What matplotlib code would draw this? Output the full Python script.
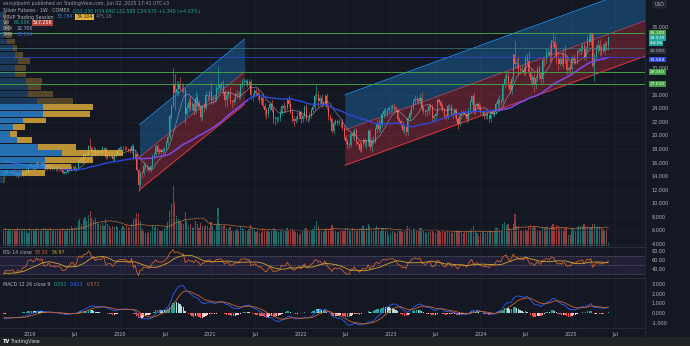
import numpy as np
import pandas as pd
import matplotlib
matplotlib.use('Agg')
import matplotlib.pyplot as plt
import matplotlib.dates as mdates
from matplotlib.transforms import blended_transform_factory
from matplotlib.lines import Line2D

# weekly closes Sep 2017 - Sep 2018, only used to warm up the indicators
warmup_close = [16.9, 16.7, 16.6, 17.0, 17.2, 17.0, 16.8, 16.9, 17.0, 17.2, 16.9, 16.6, 15.8, 16.0, 16.2, 16.8,
                17.2, 17.3, 17.1, 17.4, 17.2, 16.6, 16.5, 16.8, 16.6, 16.6, 16.5, 16.4, 16.3, 16.5, 16.6, 16.3,
                16.5, 16.4, 16.6, 16.4, 16.6, 16.9, 16.2, 16.1, 15.8, 15.9, 15.6, 15.5, 15.4, 15.3, 14.7, 14.4,
                14.8, 14.6, 14.2, 14.1]
warmup_volume = [450, 470, 430, 460, 480, 450, 440, 470, 460, 490, 470, 450, 520, 480, 470, 460,
                 490, 480, 470, 460, 480, 500, 470, 460, 450, 470, 480, 460]

first_week = '2018-09-17'

# weekly closes (USD)
close = [
    # 2018
    14.3, 14.7, 14.6, 14.6, 14.6, 14.7, 14.4, 14.1, 14.4, 14.2, 14.2, 14.6, 14.6, 14.8, 15.5, 15.6,
    # 2019
    15.6, 15.4, 15.6, 16.0, 15.8, 15.8, 16.0, 15.2, 15.1, 15.3, 15.5, 15.1, 15.1, 15.1, 15.0, 15.1, 15.0,
    14.9, 14.5, 14.5, 14.6, 14.9, 14.9, 15.3, 15.3, 15.0, 15.2, 16.2, 16.5, 16.3, 17.0, 17.2, 17.2, 18.4,
    18.2, 17.5, 17.9, 17.2, 17.6, 17.6, 17.5, 18.1, 18.1, 16.8, 17.0, 17.1, 17.0, 16.5, 17.0, 17.3, 17.9, 18.1,
    # 2020
    18.1, 18.1, 18.1, 18.0, 17.8, 17.7, 18.5, 16.7, 17.3, 14.9, 12.7, 14.5, 14.4, 15.5, 15.4, 15.2, 14.9,
    15.5, 17.0, 17.3, 18.4, 17.6, 17.8, 17.6, 17.8, 18.1, 18.9, 19.8, 22.8, 24.4, 27.6, 26.3, 26.9, 27.6,
    26.9, 26.8, 26.8, 23.1, 24.0, 25.0, 24.3, 24.6, 23.6, 25.6, 24.8, 24.2, 22.7, 24.2, 24.0, 25.9, 25.8, 26.4,
    # 2021
    25.3, 25.4, 25.6, 26.9, 27.0, 27.4, 27.3, 26.4, 25.2, 26.0, 26.3, 25.0, 24.9, 25.3, 25.9, 26.1, 25.9,
    27.4, 27.9, 27.9, 28.0, 27.6, 27.9, 25.9, 26.0, 26.5, 26.3, 25.8, 25.2, 25.5, 24.4, 23.7, 23.1, 24.0,
    24.7, 23.8, 22.4, 22.5, 22.6, 22.6, 23.3, 24.4, 24.0, 24.1, 25.3, 24.7, 23.4, 22.5, 22.2, 22.5, 22.9, 23.4,
    # 2022
    22.4, 22.9, 24.2, 22.4, 22.4, 23.0, 23.8, 24.2, 25.8, 25.9, 25.1, 25.6, 24.7, 24.8, 25.8, 24.2, 22.8,
    22.4, 20.7, 21.9, 22.1, 21.9, 21.9, 21.8, 21.1, 19.8, 19.2, 18.6, 18.6, 20.2, 19.9, 20.8, 19.0, 18.8,
    17.9, 18.8, 19.3, 18.9, 19.0, 20.6, 18.3, 19.4, 19.2, 20.9, 21.8, 20.9, 21.6, 23.1, 23.6, 23.3, 23.7, 24.0,
    # 2023
    24.0, 24.3, 24.0, 23.7, 22.4, 22.1, 21.7, 20.8, 21.2, 20.5, 22.6, 23.3, 24.2, 25.1, 25.4, 25.2, 25.1,
    25.6, 24.0, 23.6, 23.4, 23.6, 24.4, 24.2, 22.6, 22.8, 23.2, 25.3, 25.0, 24.4, 23.7, 22.8, 22.7, 24.3,
    24.3, 23.1, 23.0, 23.7, 22.4, 21.7, 22.9, 23.4, 23.3, 23.2, 22.4, 23.8, 25.0, 25.8, 23.6, 24.4, 24.6, 24.1,
    # 2024
    23.4, 23.4, 22.8, 23.2, 22.8, 22.4, 23.5, 23.2, 23.4, 24.6, 25.3, 24.8, 25.1, 27.5, 28.3, 28.7, 27.5,
    26.7, 28.4, 31.8, 30.6, 30.6, 29.8, 29.7, 29.7, 29.4, 31.5, 31.0, 29.3, 28.2, 28.6, 27.5, 28.5, 29.9,
    28.9, 28.4, 31.2, 31.1, 32.3, 32.3, 31.8, 34.0, 33.8, 32.8, 31.3, 30.6, 31.3, 30.6, 31.7, 31.2, 29.6, 30.0,
    # 2025
    29.8, 31.4, 31.0, 31.1, 32.3, 32.4, 32.8, 33.2, 31.6, 32.8, 34.3, 33.8, 34.9, 30.2, 31.6, 32.8, 33.4,
    32.4, 32.8, 32.5, 33.5, 33.23, 34.57,
]

# wick lengths beyond the candle body, in tenths of a dollar
up_wick = [
    2, 2, 2, 2, 2, 2, 3, 2, 2, 2, 2, 2, 2, 2, 2, 3,
    3, 3, 2, 2, 2, 2, 3, 3, 2, 2, 3, 3, 2, 2, 2, 2, 2, 2, 2, 2, 2, 2, 3, 3, 3, 4, 2, 3, 3, 3,
    3, 3, 4, 2, 12, 3, 4, 4, 3, 3, 3, 3, 2, 2, 3, 2, 2, 2, 3, 2, 2, 3,
    3, 3, 3, 3, 2, 3, 2, 3, 6, 1, 1, 3, 3, 6, 3, 3, 3, 2, 3, 3, 4, 3, 4, 3, 3, 2, 3, 2, 4, 2,
    23, 14, 11, 4, 10, 7, 9, 2, 6, 5, 8, 4, 4, 10, 5, 4, 3, 3, 6, 7, 1, 3,
    15, 5, 4, 5, 33, 4, 5, 9, 5, 6, 4, 8, 3, 3, 5, 6, 4, 3, 4, 6, 4, 4, 4, 4, 2, 4, 5, 6, 6, 3,
    8, 4, 4, 2, 3, 7, 4, 3, 3, 3, 5, 3, 5, 4, 3, 7, 5, 5, 4, 3, 5, 3,
    4, 3, 3, 4, 3, 4, 3, 6, 4, 16, 6, 4, 5, 3, 3, 5, 4, 4, 3, 2, 3, 4, 5, 3, 6, 4, 3, 3, 3, 3,
    4, 3, 3, 3, 4, 3, 3, 4, 4, 4, 4, 3, 5, 3, 7, 8, 5, 3, 4, 4, 3, 3,
    5, 3, 5, 3, 4, 3, 3, 4, 3, 3, 3, 4, 3, 3, 5, 4, 4, 5, 8, 3, 3, 3, 3, 4, 5, 3, 3, 3, 3, 3, 4,
    3, 3, 3, 4, 4, 3, 3, 4, 3, 3, 4, 3, 3, 3, 3, 3, 2, 6, 4, 4, 4,
    5, 4, 4, 4, 4, 4, 3, 3, 4, 3, 4, 6, 3, 3, 8, 8, 8, 6, 3, 3, 21, 8, 11, 5, 8, 6,
    3, 6, 15, 5, 3, 6, 4, 3, 5, 4, 3, 4, 6, 8, 12, 3, 12, 8, 8, 8, 4, 10, 10, 16, 6, 3,
    5, 4, 6, 4, 4, 6, 5, 5, 6, 4, 5, 6, 3, 2, 6, 5, 7, 8, 6, 8, 4, 5, 1,
]
dn_wick = [
    2, 2, 2, 1, 2, 2, 2, 2, 3, 2, 2, 2, 2, 2, 2, 2,
    3, 3, 2, 2, 3, 2, 2, 2, 2, 2, 2, 2, 2, 2, 2, 2, 2, 2, 2, 2, 2, 2, 2, 2, 3, 3, 2, 2, 3, 4,
    3, 4, 3, 3, 3, 4, 3, 3, 3, 3, 2, 3, 2, 3, 3, 2, 2, 3, 2, 2, 2, 2,
    3, 3, 3, 2, 3, 3, 3, 3, 2, 2, 11, 2, 6, 3, 4, 4, 3, 3, 3, 4, 3, 4, 3, 3, 3, 3, 3, 3, 3, 3,
    2, 25, 4, 9, 4, 4, 6, 14, 2, 6, 5, 5, 6, 4, 6, 5, 5, 4, 6, 3, 6, 4,
    7, 6, 5, 5, 7, 4, 5, 4, 9, 8, 4, 3, 8, 4, 3, 4, 5, 5, 4, 5, 5, 4, 4, 5, 8, 3, 5, 4, 4, 6,
    4, 8, 6, 4, 3, 4, 5, 9, 6, 4, 4, 3, 5, 6, 4, 4, 3, 5, 8, 4, 4, 4,
    5, 4, 3, 3, 4, 3, 4, 3, 4, 5, 9, 6, 5, 4, 4, 3, 5, 3, 4, 5, 3, 4, 4, 5, 3, 5, 4, 5, 4, 3,
    3, 5, 4, 4, 4, 3, 4, 5, 7, 4, 4, 7, 4, 3, 6, 4, 4, 4, 5, 5, 6, 4,
    5, 4, 4, 3, 2, 3, 4, 3, 6, 6, 4, 5, 4, 5, 4, 4, 4, 4, 4, 4, 5, 5, 4, 4, 4, 5, 4, 4, 4, 4, 3,
    4, 4, 3, 3, 3, 4, 3, 3, 8, 3, 4, 4, 3, 5, 3, 3, 4, 4, 5, 4, 4,
    3, 4, 3, 4, 3, 4, 4, 4, 5, 3, 5, 7, 5, 4, 5, 5, 5, 5, 6, 3, 6, 7, 9, 6, 5, 5,
    5, 6, 5, 7, 9, 11, 6, 5, 5, 6, 6, 8, 5, 6, 10, 6, 8, 8, 8, 10, 4, 3, 6, 5, 5, 4,
    8, 4, 5, 5, 5, 4, 5, 5, 4, 4, 4, 5, 4, 3, 22, 5, 6, 6, 7, 4, 6, 5, 6,
]

# weekly volume, thousand contracts
volume = [
    # 2018
    480, 500, 440, 470, 460, 450, 480, 460, 500, 470, 430, 480, 490, 460, 380, 500,
    # 2019
    450, 480, 460, 500, 460, 440, 480, 520, 500, 460, 480, 500, 460, 440, 460, 430, 450, 460, 500, 440,
    420, 520, 480, 560, 520, 500, 540, 700, 760, 640, 760, 820, 700, 880, 1000, 820, 740, 800, 680, 640,
    600, 660, 580, 760, 640, 580, 520, 560, 540, 580, 540, 460,
    # 2020
    520, 560, 500, 600, 540, 520, 620, 780, 800, 950, 900, 700, 480, 420, 380, 400, 360, 420, 600, 540,
    580, 520, 460, 440, 460, 500, 560, 680, 1000, 1200, 1700, 1250, 850, 760, 720, 660, 640, 970, 720,
    580, 620, 520, 540, 700, 620, 520, 660, 580, 540, 600, 560, 500,
    # 2021
    680, 560, 460, 600, 1080, 620, 560, 580, 600, 520, 480, 540, 460, 430, 450, 490, 430, 560, 520, 490,
    450, 430, 490, 600, 510, 450, 400, 420, 380, 400, 500, 480, 440, 420, 400, 440, 500, 480, 440,
    400, 420, 480, 420, 440, 520, 460, 480, 480, 440, 400, 380, 320,
    # 2022
    380, 420, 480, 500, 440, 420, 460, 480, 560, 700, 560, 480, 440, 400, 480, 520, 480, 520, 600, 480,
    420, 400, 400, 460, 420, 440, 480, 520, 440, 460, 520, 480, 460, 420, 480, 520, 560, 460, 500, 620,
    580, 460, 440, 500, 560, 520, 420, 520, 500, 480, 420, 300,
    # 2023
    380, 420, 400, 380, 440, 460, 420, 400, 440, 480, 560, 520, 460, 500, 480, 420, 420, 520, 500, 420,
    400, 380, 400, 420, 440, 400, 380, 460, 440, 400, 420, 420, 400, 460, 400, 400, 380, 400, 420, 460,
    440, 400, 380, 400, 400, 420, 460, 480, 560, 420, 380, 280,
    # 2024
    380, 400, 420, 380, 400, 420, 440, 400, 420, 520, 500, 460, 440, 620, 680, 600, 640, 500, 480, 640,
    900, 580, 560, 460, 460, 420, 480, 460, 540, 600, 500, 580, 500, 460, 420, 440, 540, 500, 500, 520,
    480, 580, 640, 540, 600, 580, 480, 520, 460, 500, 540, 320,
    # 2025
    320, 500, 480, 460, 540, 560, 580, 580, 620, 540, 560, 500, 540, 640, 620, 520, 560, 540, 500, 480,
    440, 480, 85,
]

# visible range volume profile: rows of 0.97 USD from 13.0 upward (thousand contracts)
vp_bottom = 13.0
vp_step = 0.97
vp_up = [300, 2200, 4500, 4500, 6200, 3800, 1700, 1000, 1300, 2300, 4300, 4300, 3700,
         2800, 2800, 2600, 1500, 1500, 1800, 1500, 1300, 700, 600, 500, 400, 300]
vp_down = [200, 2300, 2600, 4800, 6100, 3800, 1500, 700, 1200, 2300, 4700, 5000, 3600,
           2500, 1300, 1600, 1100, 1100, 1200, 800, 400, 800, 600, 500, 400, 300]
vp_value_area = (1, 11)

# parallel channels: start, end, mid price at start, mid price at end, half width
channels = [('2020-03-20', '2021-05-20', 16.8, 29.4, 4.8),
            ('2022-07-01', '2025-10-29', 20.8, 36.9, 5.2)]
green_levels = [35.10, 29.36, 27.61]
gray_level = 32.90

if not (len(close) == len(up_wick) == len(dn_wick) == len(volume)):
    raise SystemExit('lengths %d %d %d %d' % (len(close), len(up_wick), len(dn_wick), len(volume)))

BG = '#141823'
GRID = '#1d2130'
TXT = '#b2b5be'
UP = '#26a69a'
DN = '#ef5350'
W, H = 690, 346

# ---- derived series
n = len(close)
dates = pd.date_range(first_week, periods=n, freq='7D')
xd = mdates.date2num(dates)
allc = pd.Series(warmup_close + close)
c = np.array(close)
o = np.array([warmup_close[-1]] + close[:-1])
hi = np.maximum(o, c) + np.array(up_wick) / 10
lo = np.minimum(o, c) - np.array(dn_wick) / 10
lo[-1] = 32.595
hi[-1] = 34.64
up = c >= o

nw = len(warmup_close)
sma50 = allc.rolling(50).mean().values[nw:]
sma10 = allc.rolling(10).mean().values[nw:]
vol_ma = pd.Series(warmup_volume + volume).rolling(20).mean().values[len(warmup_volume):]
d = allc.diff()
g = d.clip(lower=0).ewm(alpha=1 / 14, adjust=False).mean()
l = (-d.clip(upper=0)).ewm(alpha=1 / 14, adjust=False).mean()
rsi_all = 100 - 100 / (1 + g / l)
rsi = rsi_all.values[nw:]
rsi_ma = rsi_all.rolling(14).mean().values[nw:]
macd_all = allc.ewm(span=12, adjust=False).mean() - allc.ewm(span=26, adjust=False).mean()
sig_all = macd_all.ewm(span=9, adjust=False).mean()
macd = macd_all.values[nw:]
sig = sig_all.values[nw:]
hist = macd - sig

# ---- figure and panes (pixel layout)
fig = plt.figure(figsize=(W / 100, H / 100), dpi=100, facecolor=BG)


def pane(x0, y0, x1, y1, **kw):
    return fig.add_axes([x0 / W, 1 - y1 / H, (x1 - x0) / W, (y1 - y0) / H], **kw)


ax_vol = pane(0, 0, 645, 246)
ax = pane(0, 0, 645, 246, sharex=ax_vol)
ax_vp = pane(0, 0, 645, 246, sharey=ax)
ax_rsi = pane(0, 247, 645, 277, sharex=ax_vol)
ax_macd = pane(0, 278, 645, 328, sharex=ax_vol)

x_left = mdates.date2num(pd.Timestamp('2019-01-01')) - 30 / 90.1 * 365.25
x_right = x_left + 645 / 90.1 * 365.25
tick_dates = []
tick_labels = []
for yr in range(2019, 2027):
    tick_dates += [pd.Timestamp(f'{yr}-01-01'), pd.Timestamp(f'{yr}-07-01')]
    tick_labels += [str(yr), 'Jul']
tick_dates, tick_labels = tick_dates[:-1], tick_labels[:-1]
tick_x = mdates.date2num(tick_dates)

for a in (ax_vol, ax, ax_vp, ax_rsi, ax_macd):
    for s in a.spines.values():
        s.set_visible(False)
    a.tick_params(length=0, labelsize=3.5, labelcolor=TXT)
ax.patch.set_visible(False)
ax_vp.patch.set_visible(False)
for a in (ax_vol, ax_rsi, ax_macd):
    a.set_facecolor(BG)
    a.set_xticks(tick_x)
    a.grid(axis='x', color=GRID, lw=0.5)
    a.set_axisbelow(True)
ax_vol.set_xlim(x_left, x_right)
ax_vol.set_yticks([])
ax_vol.tick_params(labelbottom=False)
ax.tick_params(labelbottom=False)
ax_rsi.tick_params(labelbottom=False)
ax_vp.set_xticks([])
ax_vp.tick_params(labelleft=False, left=False)

# volume overlay
ax_vol.bar(xd, volume, width=4.6, color=np.where(up, UP, DN), alpha=0.6, lw=0)
ax_vol.plot(xd, vol_ma, color='#c9773a', lw=0.5, alpha=0.9)
ax_vol.set_ylim(0, 7000)

# price
ticks = np.arange(4, 37, 2)
ax.set_ylim(3.70, 39.98)
ax.yaxis.tick_right()
ax.set_yticks(ticks)
ax.set_yticklabels(['' if v in (28, 32, 34) else f'{v:.3f}' for v in ticks])
ax.tick_params(axis='y', pad=5)
for v in ticks:
    ax.axhline(v, color=GRID, lw=0.5, zorder=0)

for start, end, m0, m1, hw in channels:
    t = np.linspace(mdates.date2num(pd.Timestamp(start)), mdates.date2num(pd.Timestamp(end)), 50)
    mid = m0 + (m1 - m0) * (t - t[0]) / (t[-1] - t[0])
    ax.fill_between(t, mid, mid + hw, color='#2196f3', alpha=0.3, lw=0, zorder=1)
    ax.fill_between(t, mid - hw, mid, color='#f23645', alpha=0.28, lw=0, zorder=1)
    ax.plot(t, mid + hw, color='#2196f3', lw=0.6, zorder=3)
    ax.plot(t, mid, color='#d2414f', lw=0.5, zorder=3)
    ax.plot(t, mid - hw, color='#f23645', lw=0.6, zorder=3)

colors = np.where(up, UP, DN)
ax.vlines(xd, lo, hi, colors=colors, lw=0.45, zorder=4)
ax.bar(xd, np.maximum(np.abs(c - o), 0.04), bottom=np.minimum(o, c), width=4.2,
       color=colors, lw=0, zorder=4)

ax.plot(xd, sma10, color='#b9c7dc', lw=0.5, alpha=0.6, zorder=5)
purple = ((dates >= '2020-03-16') & (dates <= '2021-06-01')) | (dates >= '2024-03-01')
seg = np.where(purple, sma50, np.nan)
ax.plot(xd, sma50, color='#2f47e0', lw=1.0, zorder=5)
ax.plot(xd, seg, color='#8d45d8', lw=1.0, zorder=5)

for lvl in green_levels:
    ax.axhline(lvl, color='#43a047', lw=0.7, zorder=6)
ax.axhline(gray_level, color='#3f7c80', lw=0.5, zorder=6)
ax.axhline(sma50[-1], color='#2f47e0', lw=0.5, zorder=6)

# volume profile
centers = vp_bottom + vp_step * (np.arange(len(vp_up)) + 0.5)
lo_va, hi_va = vp_value_area
va = (np.arange(len(vp_up)) >= lo_va) & (np.arange(len(vp_up)) <= hi_va)
tot = np.array(vp_up) + np.array(vp_down)
ax_vp.set_xlim(0, tot.max() / 0.19)
for i in range(len(vp_up)):
    al = 0.8 if va[i] else 0.3
    ax_vp.barh(centers[i], vp_up[i], height=vp_step * 0.88, color='#2a86d4', alpha=al, lw=0, zorder=7)
    ax_vp.barh(centers[i], vp_down[i], left=vp_up[i], height=vp_step * 0.88, color='#e6b23a',
               alpha=al, lw=0, zorder=7)

# right scale boxes
tr = blended_transform_factory(ax.transAxes, ax.transData)


def price_box(p, s, fc, tc='white'):
    ax.text(1.008, p, s, transform=tr, fontsize=3.2, color=tc, va='center', ha='left', clip_on=False,
            bbox=dict(boxstyle='square,pad=0.15', fc=fc, ec='none'), zorder=20)


for lvl in green_levels:
    price_box(lvl, f'{lvl:.3f}', '#43a047')
price_box(c[-1] - 0.2, f'{c[-1]:.3f}', UP)
price_box(c[-1] - 0.95, '4d 6h', UP)
price_box(gray_level - 0.45, f'{gray_level:.3f}', '#2a2e39', TXT)
price_box(sma50[-1] - 0.3, f'{sma50[-1]:.3f}', '#2f47e0')
ax.text(1.015, 39.3, 'USD', transform=tr, fontsize=3.3, color=TXT, va='center', clip_on=False,
        bbox=dict(boxstyle='square,pad=0.3', fc='#1e222d', ec='#434651', lw=0.3))

# RSI
ax_rsi.set_ylim(23.5, 88.7)
ax_rsi.fill_between([x_left, x_right], 30, 70, color='#7e57c2', alpha=0.12, lw=0)
for lvl in (70, 50, 30):
    ax_rsi.axhline(lvl, color='#787b86', lw=0.5, ls=(0, (1.2, 1.5)))
ax_rsi.plot(xd, rsi, color='#d2642c', lw=0.6)
ax_rsi.plot(xd, rsi_ma, color='#d4a72c', lw=0.6)
ax_rsi.yaxis.tick_right()
ax_rsi.set_yticks([80, 60, 40])
ax_rsi.set_yticklabels(['80.00', '60.00', '40.00'])
ax_rsi.tick_params(axis='y', pad=5)
ax_rsi.spines['top'].set_visible(True)
ax_rsi.spines['top'].set_color('#2a2e39')

# MACD
ax_macd.set_ylim(-1.55, 3.61)
hcol = []
for i in range(n):
    prev = hist[i - 1] if i else hist[i]
    if hist[i] >= 0:
        hcol.append('#26a69a' if hist[i] >= prev else '#b2dfdb')
    else:
        hcol.append('#ff5252' if hist[i] <= prev else '#ffcdd2')
ax_macd.bar(xd, hist, width=5.5, color=hcol, lw=0)
ax_macd.plot(xd, macd, color='#2962ff', lw=0.6)
ax_macd.plot(xd, sig, color='#d2642c', lw=0.6)
ax_macd.yaxis.tick_right()
ax_macd.set_yticks([3, 2, 1, 0, -1])
ax_macd.set_yticklabels(['3.000', '2.000', '1.000', '0.000', '-1.000'])
ax_macd.tick_params(axis='y', pad=5)
ax_macd.set_xticklabels(tick_labels)
ax_macd.tick_params(axis='x', pad=3)
ax_macd.spines['top'].set_visible(True)
ax_macd.spines['top'].set_color('#2a2e39')

# frame lines and bottom bar
fig.add_artist(Line2D([645 / W, 645 / W], [1 - 337 / H, 1], color='#2a2e39', lw=0.6))
fig.add_artist(Line2D([0, 645 / W], [1 - 328 / H, 1 - 328 / H], color='#2a2e39', lw=0.6))
bar = pane(0, 337, 690, 346)
bar.set_facecolor('#222325')
bar.set_xticks([])
bar.set_yticks([])
for s in bar.spines.values():
    s.set_visible(False)
fig.text(3 / W, 1 - 341.5 / H, 'TV', fontsize=3.6, weight='bold', color='white', va='center')
fig.text(10 / W, 1 - 341.5 / H, 'TradingView', fontsize=3.5, color='#d1d4dc', va='center')

# legends
renderer = fig.canvas.get_renderer()


def text_row(x, y, parts, size=3.4):
    for s, col, fc in parts:
        kw = {}
        if fc:
            kw['bbox'] = dict(boxstyle='square,pad=0.2', fc=fc, ec='none')
        t = fig.text(x / W, 1 - y / H, s, color=col, fontsize=size, va='center', ha='left', zorder=30, **kw)
        x = t.get_window_extent(renderer).x1 + 3


chg = c[-1] - c[-2]
text_row(3, 4, [('sevsjdpoint published on TradingView.com, Jun 02, 2025 17:41 UTC+3', '#9598a1', None)])
text_row(3, 11, [('Silver Futures · 1W · COMEX', TXT, None),
                 (f'O{o[-1]:.3f} H{hi[-1]:.3f} L{lo[-1]:.3f} C{c[-1]:.3f} +{chg:.3f} (+{chg / c[-2] * 100:.2f}%)',
                  UP, None)])
text_row(3, 17, [('VRVP Trading Session', TXT, None), ('33.784', '#2a86d4', None),
                 ('34.104', '#131722', '#e6b23a'), ('475.1K', '#787b86', None)])
text_row(3, 23, [('Vol', TXT, None), (f'{volume[-1]:.2f}K', UP, None),
                 (f'{vol_ma[-1]:.2f}K', 'white', '#b2463c')])
text_row(3, 29, [('SMA', TXT, None), (f'{sma10[-1]:.3f}', '#9fb4d8', None)])
text_row(3, 35, [('SMA', TXT, None), (f'{sma50[-1]:.3f}', '#3d5afe', None)])
text_row(3, 252, [('RSI 14 close', TXT, None), (f'{rsi[-1]:.2f}', '#d2642c', None),
                  (f'{rsi_ma[-1]:.2f}', '#d4a72c', None)])
text_row(3, 284, [('MACD 12 26 close 9', TXT, None), (f'{hist[-1]:.3f}', UP, None),
                  (f'{macd[-1]:.3f}', '#2962ff', None), (f'{sig[-1]:.3f}', '#d2642c', None)])

fig.savefig('out.png', dpi=100, facecolor=BG)
